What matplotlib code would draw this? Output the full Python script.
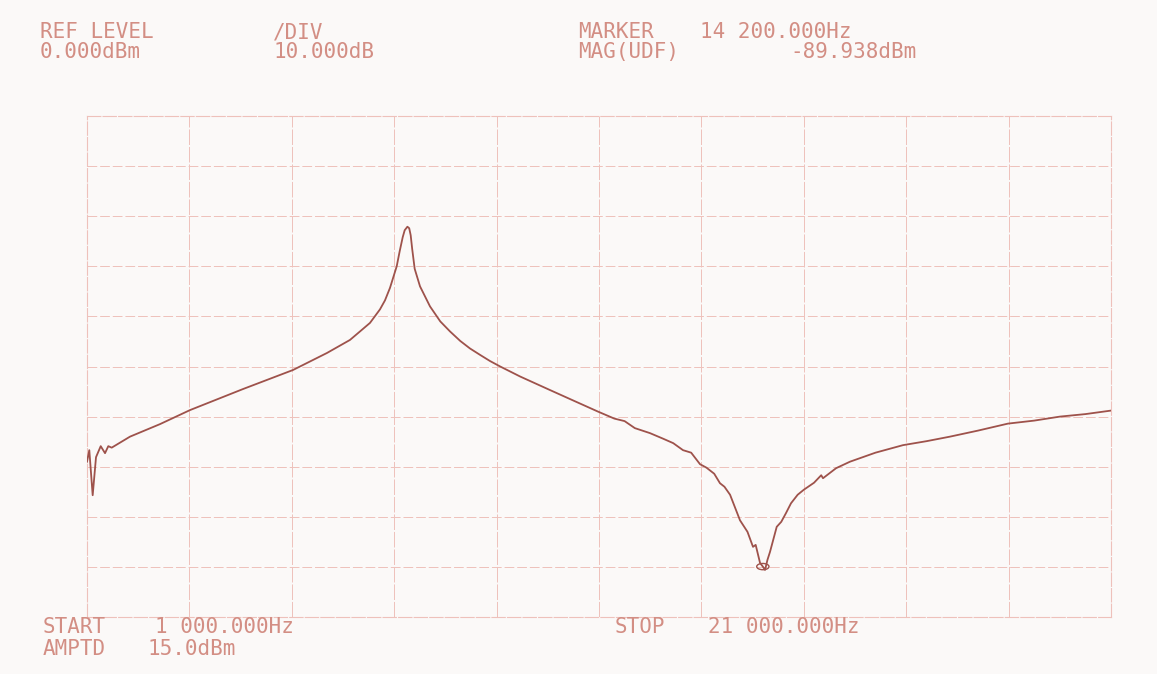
import matplotlib
matplotlib.use("Agg")
import matplotlib.pyplot as plt
from matplotlib.patches import Ellipse

# Sweep settings (Hz, dBm)
f_start = 1000.0
f_stop = 21000.0
ref_level = 0.0
db_per_div = 10.0
n_div = 10

# Measured transfer magnitude trace
freq_hz = [1000, 1045, 1111, 1176, 1268, 1352, 1416, 1482, 1840, 2426,
           3012, 4047, 5023, 5687, 6136, 6332, 6527, 6722, 6820, 6918,
           7049, 7107, 7166, 7205, 7258, 7293, 7322, 7351, 7400, 7504,
           7699, 7900, 8090, 8290, 8480, 8680, 8870, 9070, 9460,
           10043, 10500, 10980, 11300, 11500, 11700, 11996, 12250, 12450,
           12641, 12800, 12973, 13100, 13250, 13363, 13450, 13560, 13754, 13900,
           14008, 14060, 14145, 14200, 14243, 14290, 14340, 14471, 14560, 14650,
           14750, 14880, 15000, 15200, 15340, 15375, 15630, 15902, 16400, 16937,
           17400, 17855, 18400, 18987, 19500, 20003, 20500, 21000]
mag_dbm = [-69.0, -66.7, -75.7, -68.1, -65.9, -67.3, -65.9, -66.2, -64.0, -61.5,
           -58.7, -54.5, -50.7, -47.3, -44.7, -43.0, -41.3, -38.6, -36.8, -34.3,
           -30.0, -27.0, -24.2, -22.8, -22.1, -22.4, -23.8, -26.5, -30.5, -34.0,
           -38.0, -41.0, -43.0, -44.9, -46.4, -47.7, -48.9, -50.0, -52.0,
           -54.7, -56.8, -59.0, -60.4, -60.9, -62.3, -63.3, -64.4, -65.3,
           -66.7, -67.2, -69.5, -70.2, -71.4, -73.3, -74.0, -75.6, -80.7, -83.0,
           -86.0, -85.6, -89.2, -89.938, -90.6, -88.6, -87.0, -82.0, -81.0, -79.3,
           -77.3, -75.6, -74.6, -73.2, -71.7, -72.3, -70.3, -69.0, -67.2, -65.7,
           -64.9, -64.0, -62.8, -61.4, -60.8, -60.0, -59.5, -58.8]

marker_freq = 14200.0
marker_mag = -89.938

# Annotation text of the plotter output
header_labels = [
    ("REF LEVEL", 40, 38), ("0.000dBm", 40, 58),
    ("/DIV", 273, 38), ("10.000dB", 273, 58),
    ("MARKER", 578, 38), ("14 200.000Hz", 700, 38),
    ("MAG(UDF)", 578, 58), ("-89.938dBm", 790, 58),
]
footer_labels = [
    ("START", 43, 633), ("1 000.000Hz", 155, 633),
    ("AMPTD", 43, 655), ("15.0dBm", 148, 655),
    ("STOP", 615, 633), ("21 000.000Hz", 708, 633),
]

W, H = 1157, 674
paper = "#fbf9f8"
grid_col = "#eec1bb"
ink = "#d38e84"
trace_col = "#9e524b"

fig = plt.figure(figsize=(W / 100, H / 100), dpi=100, facecolor=paper)
ax = fig.add_axes([87 / W, 1 - 617 / H, (1111 - 87) / W, (617 - 116) / H])
ax.set_facecolor(paper)

ax.set_xlim(f_start, f_stop)
ax.set_ylim(ref_level - n_div * db_per_div, ref_level)

xs = [f_start + i * (f_stop - f_start) / n_div for i in range(n_div + 1)]
ys = [ref_level - i * db_per_div for i in range(n_div + 1)]
ax.set_xticks(xs)
ax.set_yticks(ys)
ax.tick_params(left=False, bottom=False, labelleft=False, labelbottom=False)

for x in xs[1:-1]:
    ax.axvline(x, color=grid_col, lw=0.7, ls=(0, (16, 2)), zorder=1)
for y in ys[1:-1]:
    ax.axhline(y, color=grid_col, lw=0.7, ls=(0, (10, 3)), zorder=1)
for s in ax.spines.values():
    s.set_color(grid_col)
    s.set_linewidth(0.8)
    s.set_linestyle((0, (12, 2)))

ax.plot(freq_hz, mag_dbm, color=trace_col, lw=1.3, solid_joinstyle="round", zorder=3)

# Marker symbol at the reported marker position
ax.add_patch(Ellipse((marker_freq, marker_mag), width=240, height=1.25,
                     fill=False, edgecolor=trace_col, lw=1.0, zorder=4))

for s, x, yb in header_labels + footer_labels:
    fig.text(x / W, 1 - yb / H, s, ha="left", va="baseline",
             family="DejaVu Sans Mono", fontsize=15, color=ink)

fig.savefig("out.png", dpi=100, facecolor=paper)
